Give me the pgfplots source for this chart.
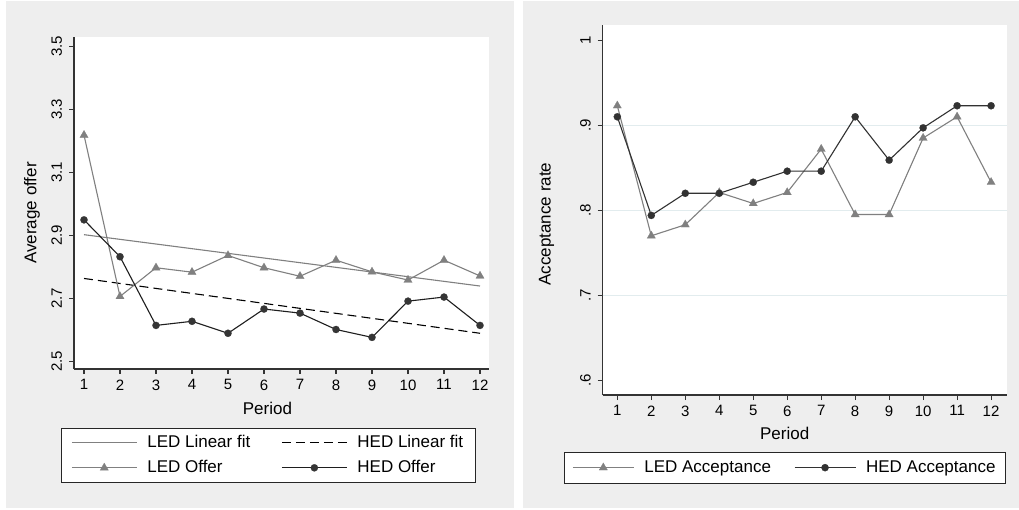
\documentclass[border=0pt]{standalone}
\usepackage{fontspec}
\setmainfont{Liberation Sans}
\usepackage{pgfplots}
\pgfplotsset{compat=1.18}
\definecolor{bggray}{RGB}{238,238,238}
\definecolor{ledgray}{RGB}{128,128,128}
\definecolor{hedblack}{RGB}{30,30,30}
\definecolor{hedright}{RGB}{50,50,50}
\definecolor{gridc}{RGB}{226,236,238}
\pgfplotsset{stata/.style={
  scale only axis,
  axis x line*=bottom, axis y line*=left,
  axis line style={line width=1.1pt, color=black!80},
  tick align=outside, major tick length=5pt,
  every tick/.style={black!80, line width=1.1pt},
  tick label style={font=\fontsize{15}{18}\selectfont},
  axis background/.style={fill=white},
  xtick={1,2,3,4,5,6,7,8,9,10,11,12},
  xticklabels={1,2,3,4,5,6,7,8,9,10,11,12},
  xticklabel style={yshift=-2pt},
  yticklabel style={rotate=90, anchor=south},
  yticklabel shift=3.5pt,
  xlabel={Period},
  legend cell align=left, legend columns=2,
}}
\pgfplotstableread{
p ledoffer hedoffer
1 3.218 2.949
2 2.706 2.832
3 2.797 2.614
4 2.783 2.627
5 2.836 2.589
6 2.797 2.666
7 2.770 2.653
8 2.821 2.601
9 2.784 2.576
10 2.758 2.691
11 2.821 2.704
12 2.771 2.614
}\offers
\pgfplotstableread{
p ledfit hedfit
1 2.902 2.763
12 2.739 2.589
}\fits
\pgfplotstableread{
p ledacc hedacc
1 0.923 0.910
2 0.770 0.794
3 0.783 0.820
4 0.821 0.820
5 0.808 0.833
6 0.821 0.846
7 0.872 0.846
8 0.795 0.910
9 0.795 0.859
10 0.885 0.897
11 0.910 0.923
12 0.833 0.923
}\accept
\begin{document}
\begin{tikzpicture}[x=1pt,y=1pt]
\fill[white] (0,0) rectangle (1019,509);
\fill[bggray] (6,1) rectangle (514,508);
\fill[bggray] (523,1) rectangle (1019,508);
\begin{axis}[stata,
  at={(74pt,140pt)}, anchor=south west,
  width=415pt, height=332pt,
  xmin=0.722, xmax=12.25, ymin=2.4756, ymax=3.5295,
  ytick={2.5,2.7,2.9,3.1,3.3,3.5},
  yticklabels={2.5,2.7,2.9,3.1,3.3,3.5},
  ylabel={Average offer},
  every axis y label/.style={at={(axis description cs:-0.101,0.47)}, rotate=90, anchor=center, font=\fontsize{17}{20}\selectfont},
  every axis x label/.style={at={(axis description cs:0.466,-0.12)}, anchor=center, font=\fontsize{17}{20}\selectfont},
  legend style={at={(0.468,-0.177)}, anchor=north, draw=black!85, line width=1.1pt, fill=white,
    font=\fontsize{17}{20}\selectfont, inner xsep=10pt, inner ysep=2pt,
    nodes={inner sep=2pt, text height=15pt, text depth=6pt},
    /tikz/every odd column/.style={column sep=8pt},
    /tikz/every even column/.style={column sep=29pt}},
  legend image code/.code={\draw[mark repeat=2,mark phase=2,#1] plot coordinates {(0pt,0pt) (32.5pt,0pt) (65pt,0pt)};},
]
\addplot[ledgray, line width=1.1pt, no marks] table[x=p,y=ledfit] {\fits};
\addlegendentry{LED Linear fit}
\addplot[black, line width=1.1pt, dash pattern=on 9pt off 5pt, no marks] table[x=p,y=hedfit] {\fits};
\addlegendentry{HED Linear fit}
\addplot[ledgray, line width=1.1pt, mark=triangle*, mark size=4.8pt, mark options={solid, fill=ledgray, draw=ledgray, line width=0.2pt}] table[x=p,y=ledoffer] {\offers};
\addlegendentry{LED Offer}
\addplot[hedblack, line width=1.1pt, mark=*, mark size=3.6pt, mark options={solid, fill=hedblack!90, draw=hedblack!90, line width=0.2pt}] table[x=p,y=hedoffer] {\offers};
\addlegendentry{HED Offer}
\end{axis}
\begin{axis}[stata,
  at={(602.7pt,114pt)}, anchor=south west,
  width=404pt, height=370pt,
  xmin=0.57, xmax=12.46, ymin=0.5827, ymax=1.018,
  ytick={0.6,0.7,0.8,0.9,1},
  yticklabels={.6,.7,.8,.9,1},
  extra y ticks={0.7,0.8,0.9},
  extra y tick labels={},
  extra y tick style={grid=major, major tick length=0pt, major grid style={gridc, line width=1pt}},
  ylabel={Acceptance rate},
  every axis y label/.style={at={(axis description cs:-0.139,0.462)}, rotate=90, anchor=center, font=\fontsize{17}{20}\selectfont},
  every axis x label/.style={at={(axis description cs:0.4505,-0.105)}, anchor=center, font=\fontsize{17}{20}\selectfont},
  legend style={at={(0.451,-0.153)}, anchor=north, draw=black!85, line width=1.1pt, fill=white,
    font=\fontsize{17}{20}\selectfont, inner xsep=7.5pt, inner ysep=3pt,
    nodes={inner sep=2pt, text height=15pt, text depth=6pt},
    /tikz/every odd column/.style={column sep=8pt},
    /tikz/every even column/.style={column sep=21pt}},
  legend image code/.code={\draw[mark repeat=2,mark phase=2,#1] plot coordinates {(0pt,0pt) (30.5pt,0pt) (61pt,0pt)};},
]
\addplot[ledgray, line width=1.1pt, mark=triangle*, mark size=4.8pt, mark options={solid, fill=ledgray, draw=ledgray, line width=0.2pt}] table[x=p,y=ledacc] {\accept};
\addlegendentry{LED Acceptance}
\addplot[hedright, line width=1.1pt, mark=*, mark size=3.6pt, mark options={solid, fill=hedright, draw=hedright, line width=0.2pt}] table[x=p,y=hedacc] {\accept};
\addlegendentry{HED Acceptance}
\end{axis}
\end{tikzpicture}
\end{document}
